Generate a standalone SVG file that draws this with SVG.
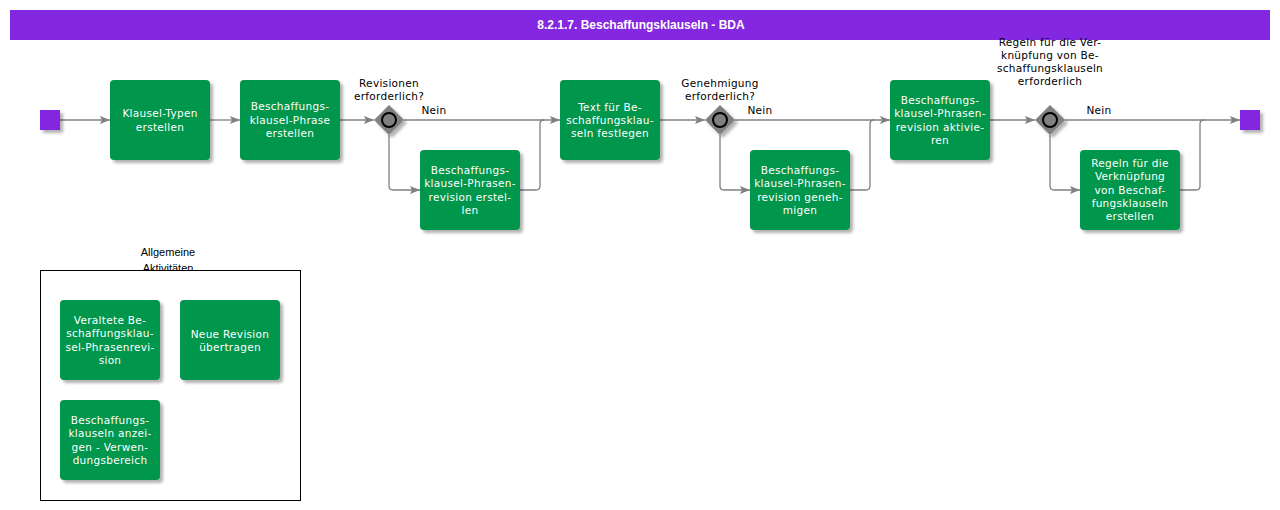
<svg xmlns="http://www.w3.org/2000/svg" width="1280" height="510" viewBox="0 0 1280 510">
<defs>
<filter id="sh" x="-20%" y="-20%" width="150%" height="150%">
<feDropShadow dx="3" dy="3" stdDeviation="1.5" flood-color="#000" flood-opacity="0.3"/>
</filter>
<marker id="arr" viewBox="0 0 10 10" refX="10" refY="5" markerWidth="10" markerHeight="10" markerUnits="userSpaceOnUse" orient="auto">
<path d="M0,1 L10,5 L0,9 L2,5 Z" fill="#808080"/>
</marker>
<style>
.task{fill:#00964B;filter:url(#sh)}
.tt{fill:#fff;font-family:"DejaVu Sans",Verdana,sans-serif;font-size:10.5px;text-anchor:middle;letter-spacing:0.3px}
.lbl{fill:#000;font-family:"DejaVu Sans",Verdana,sans-serif;font-size:10.5px;text-anchor:middle;letter-spacing:0.3px}
.ev{fill:#8427E0;filter:url(#sh)}
.gw{fill:#808080;filter:url(#sh)}
.gc{fill:none;stroke:#000;stroke-width:2}
.con{fill:none;stroke:#808080;stroke-width:1.3}
</style>
</defs>
<rect width="1280" height="510" fill="#fff"/>
<g id="title">
<rect x="10" y="10" width="1260" height="30" fill="#8427E0"/>
<text x="641" y="29" fill="#fff" font-family="'Liberation Sans Narrow','Liberation Sans',Arial,sans-serif" font-weight="bold" font-size="12" text-anchor="middle">8.2.1.7. Beschaffungsklauseln - BDA</text>
</g>
<g id="connectors">
<path class="con" d="M60,120 H110" marker-end="url(#arr)"/>
<path class="con" d="M210,120 H240" marker-end="url(#arr)"/>
<path class="con" d="M340,120 H374" marker-end="url(#arr)"/>
<path class="con" d="M404,120 H560" marker-end="url(#arr)"/>
<path class="con" d="M389,135 V186 Q389,190 393,190 H420" marker-end="url(#arr)"/>
<path class="con" d="M520,190 H536 Q540,190 540,186 V124 Q540,120 544,120"/>
<path class="con" d="M660,120 H705" marker-end="url(#arr)"/>
<path class="con" d="M735,120 H890" marker-end="url(#arr)"/>
<path class="con" d="M720,135 V186 Q720,190 724,190 H750" marker-end="url(#arr)"/>
<path class="con" d="M850,190 H866 Q870,190 870,186 V124 Q870,120 874,120"/>
<path class="con" d="M990,120 H1035" marker-end="url(#arr)"/>
<path class="con" d="M1065,120 H1240" marker-end="url(#arr)"/>
<path class="con" d="M1050,135 V186 Q1050,190 1054,190 H1080" marker-end="url(#arr)"/>
<path class="con" d="M1180,190 H1196 Q1200,190 1200,186 V124 Q1200,120 1204,120"/>
<text class="lbl" x="434" y="114">Nein</text>
<text class="lbl" x="760" y="114">Nein</text>
<text class="lbl" x="1099" y="114">Nein</text>
</g>
<g id="start"><rect class="ev" x="40" y="110" width="20" height="20"/></g>
<g id="end"><rect class="ev" x="1240" y="110" width="20" height="20"/></g>
<g id="t1"><rect class="task" x="110" y="80" width="100" height="80" rx="4"/>
<text class="tt" x="160" y="117">Klausel-Typen</text><text class="tt" x="160" y="131">erstellen</text></g>
<g id="t2"><rect class="task" x="240" y="80" width="100" height="80" rx="4"/>
<text class="tt" x="290" y="110">Beschaffungs-</text><text class="tt" x="290" y="124">klausel-Phrase</text><text class="tt" x="290" y="137">erstellen</text></g>
<g id="g1"><path class="gw" d="M389,105 L404,120 L389,135 L374,120 Z"/><circle class="gc" cx="389" cy="120" r="7"/>
<text class="lbl" x="389" y="87">Revisionen</text><text class="lbl" x="389" y="100">erforderlich?</text></g>
<g id="t3"><rect class="task" x="420" y="150" width="100" height="80" rx="4"/>
<text class="tt" x="470" y="174">Beschaffungs-</text><text class="tt" x="470" y="187">klausel-Phrasen-</text><text class="tt" x="470" y="201">revision erstel-</text><text class="tt" x="470" y="214">len</text></g>
<g id="t4"><rect class="task" x="560" y="80" width="100" height="80" rx="4"/>
<text class="tt" x="610" y="111">Text für Be-</text><text class="tt" x="610" y="124">schaffungsklau-</text><text class="tt" x="610" y="137">seln festlegen</text></g>
<g id="g2"><path class="gw" d="M720,105 L735,120 L720,135 L705,120 Z"/><circle class="gc" cx="720" cy="120" r="7"/>
<text class="lbl" x="720" y="87">Genehmigung</text><text class="lbl" x="720" y="100">erforderlich?</text></g>
<g id="t5"><rect class="task" x="750" y="150" width="100" height="80" rx="4"/>
<text class="tt" x="800" y="174">Beschaffungs-</text><text class="tt" x="800" y="187">klausel-Phrasen-</text><text class="tt" x="800" y="201">revision geneh-</text><text class="tt" x="800" y="214">migen</text></g>
<g id="t6"><rect class="task" x="890" y="80" width="100" height="80" rx="4"/>
<text class="tt" x="940" y="104">Beschaffungs-</text><text class="tt" x="940" y="117">klausel-Phrasen-</text><text class="tt" x="940" y="131">revision aktivie-</text><text class="tt" x="940" y="144">ren</text></g>
<g id="g3"><path class="gw" d="M1050,105 L1065,120 L1050,135 L1035,120 Z"/><circle class="gc" cx="1050" cy="120" r="7"/>
<text class="lbl" x="1050" y="46">Regeln für die Ver-</text><text class="lbl" x="1050" y="59">knüpfung von Be-</text><text class="lbl" x="1050" y="72">schaffungsklauseln</text><text class="lbl" x="1050" y="85">erforderlich</text></g>
<g id="t7"><rect class="task" x="1080" y="150" width="100" height="80" rx="4"/>
<text class="tt" x="1130" y="167">Regeln für die</text><text class="tt" x="1130" y="180">Verknüpfung</text><text class="tt" x="1130" y="194">von Beschaf-</text><text class="tt" x="1130" y="207">fungsklauseln</text><text class="tt" x="1130" y="220">erstellen</text></g>
<g id="group">
<text x="168" y="256" font-family="'Liberation Sans',Arial,sans-serif" font-size="11" text-anchor="middle">Allgemeine</text>
<text x="168" y="272" font-family="'Liberation Sans',Arial,sans-serif" font-size="11" text-anchor="middle">Aktivitäten</text>
<rect x="40.5" y="270.5" width="260" height="230" fill="#fff" stroke="#000" stroke-width="1"/>
</g>
<g id="ta"><rect class="task" x="60" y="300" width="100" height="80" rx="4"/>
<text class="tt" x="110" y="324">Veraltete Be-</text><text class="tt" x="110" y="337">schaffungsklau-</text><text class="tt" x="110" y="351">sel-Phrasenrevi-</text><text class="tt" x="110" y="364">sion</text></g>
<g id="tb"><rect class="task" x="180" y="300" width="100" height="80" rx="4"/>
<text class="tt" x="230" y="338">Neue Revision</text><text class="tt" x="230" y="351">übertragen</text></g>
<g id="tc"><rect class="task" x="60" y="400" width="100" height="80" rx="4"/>
<text class="tt" x="110" y="424">Beschaffungs-</text><text class="tt" x="110" y="437">klauseln anzei-</text><text class="tt" x="110" y="451">gen - Verwen-</text><text class="tt" x="110" y="464">dungsbereich</text></g>
</svg>
